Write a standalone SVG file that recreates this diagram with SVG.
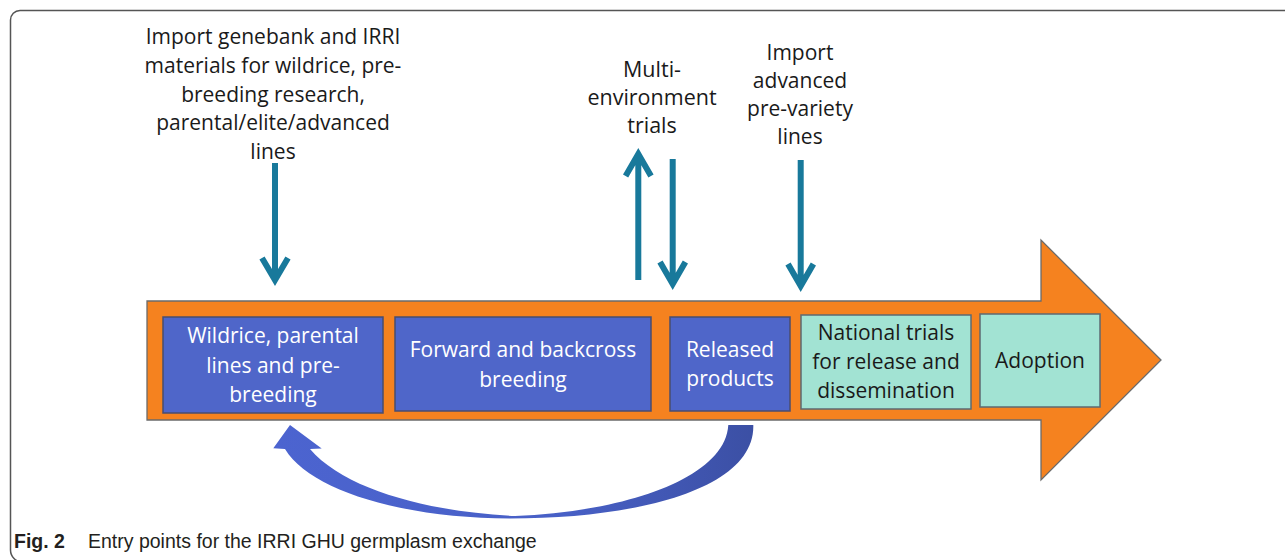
<svg xmlns="http://www.w3.org/2000/svg" width="1285" height="560" viewBox="0 0 1285 560">
<defs>
<linearGradient id="curveGrad" x1="270" y1="0" x2="760" y2="0" gradientUnits="userSpaceOnUse">
<stop offset="0" stop-color="#4C64D0"/>
<stop offset="0.6" stop-color="#4860C6"/>
<stop offset="1" stop-color="#3B4FA3"/>
</linearGradient>
</defs>
<style>
.frame{fill:none;stroke:#555;stroke-width:1.5}
.body{fill:#F5821F;stroke:#6b6b6b;stroke-width:1.3}
.blue{fill:#4F66C9;stroke:#4a4d6e;stroke-width:1.5}
.mint{fill:#A2E3D3;stroke:#5d6a72;stroke-width:1.5}
.t{font-family:"Open Sans","Liberation Sans",sans-serif;font-size:21px;text-anchor:middle}
.w{fill:#ffffff}
.k{fill:#1a1a1a}
.arr{fill:none;stroke:#18799B;stroke-width:6;stroke-linejoin:miter}
.cap{font-family:"Liberation Sans",Arial,sans-serif;font-size:19.5px;fill:#231f20}
</style>
<rect width="1285" height="560" fill="#ffffff"/>
<path class="frame" d="M1285 10.5 H20 A9.5 9.5 0 0 0 10.5 20 V550 A12 12 0 0 0 22.5 562"/>
<g id="main-arrow">
<polygon class="body" points="147,301 1041,301 1041,240 1161,360 1041,480 1041,420 147,420"/>
</g>
<g id="node-wildrice">
<rect class="blue" x="163" y="317" width="220" height="96"/>
<text class="t w"><tspan x="273" y="343">Wildrice, parental</tspan><tspan x="273" y="373">lines and pre-</tspan><tspan x="273" y="402">breeding</tspan></text>
</g>
<g id="node-forward">
<rect class="blue" x="395" y="317" width="256" height="94"/>
<text class="t w"><tspan x="523" y="357">Forward and backcross</tspan><tspan x="523" y="387">breeding</tspan></text>
</g>
<g id="node-released">
<rect class="blue" x="670" y="317" width="120" height="94"/>
<text class="t w"><tspan x="730" y="357">Released</tspan><tspan x="730" y="386">products</tspan></text>
</g>
<g id="node-national">
<rect class="mint" x="801" y="315" width="170" height="94"/>
<text class="t k"><tspan x="886" y="340">National trials</tspan><tspan x="886" y="369">for release and</tspan><tspan x="886" y="398">dissemination</tspan></text>
</g>
<g id="node-adoption">
<rect class="mint" x="980" y="314" width="120" height="93"/>
<text class="t k"><tspan x="1040" y="368">Adoption</tspan></text>
</g>
<g id="label-import-genebank">
<text class="t k"><tspan x="273" y="44">Import genebank and IRRI</tspan><tspan x="273" y="73">materials for wildrice, pre-</tspan><tspan x="273" y="102">breeding research,</tspan><tspan x="273" y="130">parental/elite/advanced</tspan><tspan x="273" y="159">lines</tspan></text>
</g>
<g id="label-multi-environment">
<text class="t k" style="font-size:21.5px"><tspan x="652" y="77">Multi-</tspan><tspan x="652" y="105">environment</tspan><tspan x="652" y="133">trials</tspan></text>
</g>
<g id="label-import-advanced">
<text class="t k"><tspan x="800" y="60">Import</tspan><tspan x="800" y="88">advanced</tspan><tspan x="800" y="116">pre-variety</tspan><tspan x="800" y="144">lines</tspan></text>
</g>
<g id="connectors">
<path class="arr" d="M275 163 V278 M262 258 L275 280 L288 258"/>
<path class="arr" d="M638.3 280 V158 M625.6 176 L638.3 154 L651 176"/>
<path class="arr" d="M672.7 159 V282 M660 262 L672.7 284 L685.4 262"/>
<path class="arr" d="M800.7 160 V284 M788 264 L800.7 286 L813.4 264"/>
<path fill="url(#curveGrad)" d="M290 425 L321.7 448.5 L310 449 C345 490 430 512 515 516 C620 512 725 480 728.3 425 L753.3 425 C755 488 640 518.5 510 518.5 C400 518 310 490 285 449 L273.3 448.3 Z"/>
</g>
<g id="caption">
<text class="cap" y="548"><tspan x="14" font-weight="bold">Fig. 2</tspan><tspan x="88">Entry points for the IRRI GHU germplasm exchange</tspan></text>
</g>
</svg>
